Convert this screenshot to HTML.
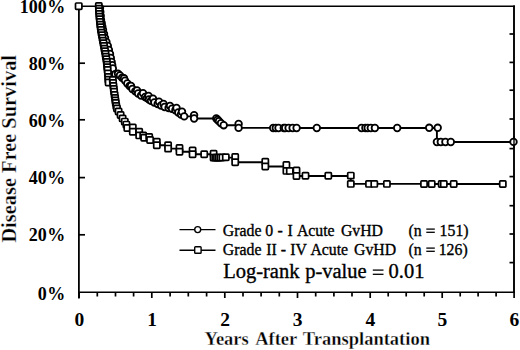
<!DOCTYPE html>
<html><head><meta charset="utf-8"><style>
html,body{margin:0;padding:0;background:#fff;}
svg{display:block;}
.b{font-family:"Liberation Serif",serif;font-weight:bold;fill:#000;}
.t{stroke:#fff;stroke-width:0.3px;}
.r{font-family:"Liberation Serif",serif;fill:#000;stroke:#000;stroke-width:0.35px;}
</style></head><body>
<svg width="520" height="350" viewBox="0 0 520 350">
<rect width="520" height="350" fill="#fff"/>
<g stroke="#000" fill="none">
<line x1="78.9" y1="5.5" x2="78.9" y2="298.5" stroke-width="1.8"/>
<line x1="78" y1="6.2" x2="515" y2="6.2" stroke-width="1.5"/>
<line x1="514" y1="5.5" x2="514" y2="293" stroke-width="1.9"/>
<line x1="78" y1="292.3" x2="515" y2="292.3" stroke-width="1.5"/>
</g>
<g stroke="#000" stroke-width="1.7"><line x1="79.1" y1="292.5" x2="79.1" y2="298.0"/><line x1="97.3" y1="292.5" x2="97.3" y2="296.5"/><line x1="115.5" y1="292.5" x2="115.5" y2="296.5"/><line x1="133.6" y1="292.5" x2="133.6" y2="296.5"/><line x1="151.8" y1="292.5" x2="151.8" y2="298.0"/><line x1="170.1" y1="292.5" x2="170.1" y2="296.5"/><line x1="188.3" y1="292.5" x2="188.3" y2="296.5"/><line x1="206.6" y1="292.5" x2="206.6" y2="296.5"/><line x1="224.8" y1="292.5" x2="224.8" y2="298.0"/><line x1="243.0" y1="292.5" x2="243.0" y2="296.5"/><line x1="261.1" y1="292.5" x2="261.1" y2="296.5"/><line x1="279.3" y1="292.5" x2="279.3" y2="296.5"/><line x1="297.5" y1="292.5" x2="297.5" y2="298.0"/><line x1="315.7" y1="292.5" x2="315.7" y2="296.5"/><line x1="333.9" y1="292.5" x2="333.9" y2="296.5"/><line x1="352.0" y1="292.5" x2="352.0" y2="296.5"/><line x1="370.2" y1="292.5" x2="370.2" y2="298.0"/><line x1="388.2" y1="292.5" x2="388.2" y2="296.5"/><line x1="406.2" y1="292.5" x2="406.2" y2="296.5"/><line x1="424.2" y1="292.5" x2="424.2" y2="296.5"/><line x1="442.2" y1="292.5" x2="442.2" y2="298.0"/><line x1="460.2" y1="292.5" x2="460.2" y2="296.5"/><line x1="478.1" y1="292.5" x2="478.1" y2="296.5"/><line x1="496.1" y1="292.5" x2="496.1" y2="296.5"/><line x1="514.1" y1="292.5" x2="514.1" y2="298.0"/><line x1="79" y1="234.8" x2="85" y2="234.8"/><line x1="79" y1="177.6" x2="85" y2="177.6"/><line x1="79" y1="119.8" x2="85" y2="119.8"/><line x1="79" y1="63.2" x2="85" y2="63.2"/><line x1="514" y1="34" x2="509.5" y2="34"/><line x1="514" y1="62.4" x2="509.5" y2="62.4"/><line x1="514" y1="90.2" x2="509.5" y2="90.2"/><line x1="514" y1="119" x2="509.5" y2="119"/><line x1="514" y1="148.6" x2="509.5" y2="148.6"/><line x1="514" y1="176.6" x2="509.5" y2="176.6"/><line x1="514" y1="205.7" x2="509.5" y2="205.7"/><line x1="514" y1="234" x2="509.5" y2="234"/><line x1="514" y1="262.6" x2="509.5" y2="262.6"/></g>
<g stroke="#000" stroke-width="1.9" fill="none">
<path d="M98.0,6.2 H98.8 H99.0 V8.7 H99.1 V11.3 H99.3 V14.0 H99.5 V16.7 H99.8 V19.3 H100.0 V22.0 H100.3 V24.7 H100.7 V27.3 H101.0 V30.0 H101.5 V32.7 H102.0 V35.3 H102.5 V38.0 H103.0 V40.7 H103.5 V43.3 H104.0 V46.0 H104.5 V48.7 H105.0 V51.3 H105.5 V54.0 H105.9 V56.7 H106.4 V59.3 H106.8 V62.0 H107.1 V64.7 H107.3 V67.3 H107.6 V70.0 H107.9 V73.5 H108.2 V77.0 H108.4 V79.8 H108.6 V82.5 H112.8 H113.1 V83.0 H113.4 V86.0 H113.8 V88.8 H114.1 V91.7 H114.6 V94.8 H115.1 V98.0 H115.4 V100.5 H115.8 V103.0 H116.3 V106.0 H117.0 V108.5 H118.6 V111.5 H120.6 V115.0 H122.6 V118.4 H124.8 V121.6 H126.4 V124.6 H127.3 V128.0 H132.8 V131.8 H139.2 V135.4 H143.2 V135.5 H144.2 V137.8 H149.2 H150.1 V140.0 H156.8 V141.8 V145.2 H168.1 V148.6 H179.5 V151.8 H192.6 V154.3 H204.2 H213.6 V157.6 H215.3 H217.0 H218.7 H220.4 H222.4 H225.8 H235.2 V162.3 H265.3 V166.5 H286.4 V170.9 H289.8 H296.5 V176.0 H305.5 H328.3 H350.8 V183.9 H369.0 H374.3 H386.9 H424.0 V184.0 H431.7 H441.7 H443.8 H453.7 H502.8"/>
<path d="M98.0,6.2 H100.0 V8.0 H100.3 V12.0 H100.7 V16.0 H101.0 V20.0 H101.7 V23.3 H102.3 V26.7 H103.0 V30.0 H104.0 V34.0 H105.0 V38.0 H106.4 V42.0 H107.8 V46.0 H108.9 V50.0 H110.0 V54.0 H110.8 V58.0 H111.6 V62.0 H112.2 V65.2 H112.8 V68.5 H115.3 V74.3 H118.0 H119.9 V75.5 H122.1 V77.8 H124.0 V78.3 H125.0 V80.6 H127.3 V83.5 H129.6 V86.0 H131.0 H132.4 V89.0 H135.3 V91.3 H137.0 H138.1 V93.5 H141.1 V95.5 H143.0 H145.1 V97.0 H147.0 V98.0 H148.5 H149.0 V99.5 H151.0 V100.8 H153.0 H154.3 V102.5 H157.7 V104.0 H159.0 H161.1 V105.5 H163.5 H164.6 V107.0 H168.6 V108.0 H170.0 H172.0 V108.7 H175.4 V110.3 H176.5 H178.3 V112.5 H181.0 V114.5 H182.0 H184.2 V116.4 H194.1 V118.5 H216.3 H217.6 V119.8 H219.0 V121.2 H221.0 V123.2 H223.7 V125.2 H238.6 V127.9 H273.2 V128.0 H275.8 H278.5 H283.8 H285.2 H288.6 H292.6 H296.6 H316.8 H361.5 H365.4 H367.7 H370.8 H374.9 H397.2 H429.2 H436.9 V142.0 H437.7 H440.8 H445.4 H450.8 H513.5"/>
</g>
<g stroke="#000" stroke-width="1.8" fill="#fff"><circle cx="100.0" cy="8.0" r="3.3"/><circle cx="100.3" cy="12.0" r="3.3"/><circle cx="100.7" cy="16.0" r="3.3"/><circle cx="101.0" cy="20.0" r="3.3"/><circle cx="101.7" cy="23.3" r="3.3"/><circle cx="102.3" cy="26.7" r="3.3"/><circle cx="103.0" cy="30.0" r="3.3"/><circle cx="104.0" cy="34.0" r="3.3"/><circle cx="105.0" cy="38.0" r="3.3"/><circle cx="106.4" cy="42.0" r="3.3"/><circle cx="107.8" cy="46.0" r="3.3"/><circle cx="108.9" cy="50.0" r="3.3"/><circle cx="110.0" cy="54.0" r="3.3"/><circle cx="110.8" cy="58.0" r="3.3"/><circle cx="111.6" cy="62.0" r="3.3"/><circle cx="112.2" cy="65.2" r="3.3"/><circle cx="112.8" cy="68.5" r="3.3"/><circle cx="115.3" cy="74.3" r="3.3"/><circle cx="118.0" cy="73.8" r="3.3"/><circle cx="119.9" cy="75.5" r="3.3"/><circle cx="122.1" cy="77.8" r="3.3"/><circle cx="124.0" cy="78.3" r="3.3"/><circle cx="125.0" cy="80.6" r="3.3"/><circle cx="127.3" cy="83.5" r="3.3"/><circle cx="129.6" cy="86.0" r="3.3"/><circle cx="131.0" cy="86.0" r="3.3"/><circle cx="132.4" cy="89.0" r="3.3"/><circle cx="135.3" cy="91.3" r="3.3"/><circle cx="137.0" cy="90.5" r="3.3"/><circle cx="138.1" cy="93.5" r="3.3"/><circle cx="141.1" cy="95.5" r="3.3"/><circle cx="143.0" cy="93.2" r="3.3"/><circle cx="145.1" cy="97.0" r="3.3"/><circle cx="147.0" cy="98.0" r="3.3"/><circle cx="148.5" cy="96.0" r="3.3"/><circle cx="149.0" cy="99.5" r="3.3"/><circle cx="151.0" cy="100.8" r="3.3"/><circle cx="153.0" cy="98.7" r="3.3"/><circle cx="154.3" cy="102.5" r="3.3"/><circle cx="157.7" cy="104.0" r="3.3"/><circle cx="159.0" cy="101.7" r="3.3"/><circle cx="161.1" cy="105.5" r="3.3"/><circle cx="163.5" cy="104.0" r="3.3"/><circle cx="164.6" cy="107.0" r="3.3"/><circle cx="168.6" cy="108.0" r="3.3"/><circle cx="170.0" cy="106.0" r="3.3"/><circle cx="172.0" cy="108.7" r="3.3"/><circle cx="175.4" cy="110.3" r="3.3"/><circle cx="176.5" cy="108.0" r="3.3"/><circle cx="178.3" cy="112.5" r="3.3"/><circle cx="181.0" cy="114.5" r="3.3"/><circle cx="182.0" cy="111.7" r="3.3"/><circle cx="184.2" cy="116.4" r="3.3"/><circle cx="194.1" cy="115.1" r="3.3"/><circle cx="194.1" cy="118.5" r="3.3"/><circle cx="216.3" cy="118.5" r="3.3"/><circle cx="217.6" cy="119.8" r="3.3"/><circle cx="219.0" cy="121.2" r="3.3"/><circle cx="221.0" cy="123.2" r="3.3"/><circle cx="223.7" cy="125.2" r="3.3"/><circle cx="238.6" cy="124.0" r="3.3"/><circle cx="238.6" cy="127.9" r="3.3"/><circle cx="273.2" cy="128.0" r="3.3"/><circle cx="275.8" cy="128.0" r="3.3"/><circle cx="278.5" cy="128.0" r="3.3"/><circle cx="283.8" cy="128.0" r="3.3"/><circle cx="285.2" cy="128.0" r="3.3"/><circle cx="288.6" cy="128.0" r="3.3"/><circle cx="292.6" cy="128.0" r="3.3"/><circle cx="296.6" cy="128.0" r="3.3"/><circle cx="316.8" cy="128.0" r="3.3"/><circle cx="361.5" cy="128.0" r="3.3"/><circle cx="365.4" cy="128.0" r="3.3"/><circle cx="367.7" cy="128.0" r="3.3"/><circle cx="370.8" cy="128.0" r="3.3"/><circle cx="374.9" cy="128.0" r="3.3"/><circle cx="397.2" cy="128.0" r="3.3"/><circle cx="429.2" cy="127.8" r="3.3"/><circle cx="436.9" cy="142.0" r="3.3"/><circle cx="437.7" cy="127.8" r="3.3"/><circle cx="440.8" cy="142.0" r="3.3"/><circle cx="445.4" cy="142.0" r="3.3"/><circle cx="450.8" cy="142.0" r="3.3"/><circle cx="513.5" cy="141.9" r="3.3"/></g>
<g stroke="#000" stroke-width="1.7" fill="#fff"><rect x="95.7" y="2.9" width="6.2" height="6.2" rx="0.8"/><rect x="95.9" y="5.6" width="6.2" height="6.2" rx="0.8"/><rect x="96.0" y="8.2" width="6.2" height="6.2" rx="0.8"/><rect x="96.2" y="10.9" width="6.2" height="6.2" rx="0.8"/><rect x="96.4" y="13.6" width="6.2" height="6.2" rx="0.8"/><rect x="96.7" y="16.2" width="6.2" height="6.2" rx="0.8"/><rect x="96.9" y="18.9" width="6.2" height="6.2" rx="0.8"/><rect x="97.2" y="21.6" width="6.2" height="6.2" rx="0.8"/><rect x="97.6" y="24.2" width="6.2" height="6.2" rx="0.8"/><rect x="97.9" y="26.9" width="6.2" height="6.2" rx="0.8"/><rect x="98.4" y="29.6" width="6.2" height="6.2" rx="0.8"/><rect x="98.9" y="32.2" width="6.2" height="6.2" rx="0.8"/><rect x="99.4" y="34.9" width="6.2" height="6.2" rx="0.8"/><rect x="99.9" y="37.6" width="6.2" height="6.2" rx="0.8"/><rect x="100.4" y="40.2" width="6.2" height="6.2" rx="0.8"/><rect x="100.9" y="42.9" width="6.2" height="6.2" rx="0.8"/><rect x="101.4" y="45.6" width="6.2" height="6.2" rx="0.8"/><rect x="101.9" y="48.2" width="6.2" height="6.2" rx="0.8"/><rect x="102.4" y="50.9" width="6.2" height="6.2" rx="0.8"/><rect x="102.8" y="53.6" width="6.2" height="6.2" rx="0.8"/><rect x="103.3" y="56.2" width="6.2" height="6.2" rx="0.8"/><rect x="103.7" y="58.9" width="6.2" height="6.2" rx="0.8"/><rect x="104.0" y="61.6" width="6.2" height="6.2" rx="0.8"/><rect x="104.2" y="64.2" width="6.2" height="6.2" rx="0.8"/><rect x="104.5" y="66.9" width="6.2" height="6.2" rx="0.8"/><rect x="104.8" y="70.4" width="6.2" height="6.2" rx="0.8"/><rect x="105.1" y="73.9" width="6.2" height="6.2" rx="0.8"/><rect x="105.3" y="76.7" width="6.2" height="6.2" rx="0.8"/><rect x="105.5" y="79.4" width="6.2" height="6.2" rx="0.8"/><rect x="109.7" y="76.9" width="6.2" height="6.2" rx="0.8"/><rect x="110.0" y="79.9" width="6.2" height="6.2" rx="0.8"/><rect x="110.3" y="82.9" width="6.2" height="6.2" rx="0.8"/><rect x="110.7" y="85.8" width="6.2" height="6.2" rx="0.8"/><rect x="111.0" y="88.6" width="6.2" height="6.2" rx="0.8"/><rect x="111.5" y="91.8" width="6.2" height="6.2" rx="0.8"/><rect x="112.0" y="94.9" width="6.2" height="6.2" rx="0.8"/><rect x="112.3" y="97.4" width="6.2" height="6.2" rx="0.8"/><rect x="112.7" y="99.9" width="6.2" height="6.2" rx="0.8"/><rect x="113.2" y="102.9" width="6.2" height="6.2" rx="0.8"/><rect x="113.9" y="105.4" width="6.2" height="6.2" rx="0.8"/><rect x="115.5" y="108.4" width="6.2" height="6.2" rx="0.8"/><rect x="117.5" y="111.9" width="6.2" height="6.2" rx="0.8"/><rect x="119.5" y="115.3" width="6.2" height="6.2" rx="0.8"/><rect x="121.7" y="118.5" width="6.2" height="6.2" rx="0.8"/><rect x="123.3" y="121.5" width="6.2" height="6.2" rx="0.8"/><rect x="124.2" y="124.9" width="6.2" height="6.2" rx="0.8"/><rect x="129.7" y="124.4" width="6.2" height="6.2" rx="0.8"/><rect x="129.7" y="128.7" width="6.2" height="6.2" rx="0.8"/><rect x="136.1" y="128.7" width="6.2" height="6.2" rx="0.8"/><rect x="136.1" y="132.3" width="6.2" height="6.2" rx="0.8"/><rect x="140.1" y="132.4" width="6.2" height="6.2" rx="0.8"/><rect x="141.1" y="134.7" width="6.2" height="6.2" rx="0.8"/><rect x="146.1" y="133.9" width="6.2" height="6.2" rx="0.8"/><rect x="147.0" y="136.9" width="6.2" height="6.2" rx="0.8"/><rect x="153.7" y="138.7" width="6.2" height="6.2" rx="0.8"/><rect x="153.7" y="142.1" width="6.2" height="6.2" rx="0.8"/><rect x="165.0" y="142.1" width="6.2" height="6.2" rx="0.8"/><rect x="165.0" y="145.5" width="6.2" height="6.2" rx="0.8"/><rect x="176.4" y="144.9" width="6.2" height="6.2" rx="0.8"/><rect x="176.4" y="148.7" width="6.2" height="6.2" rx="0.8"/><rect x="189.5" y="147.4" width="6.2" height="6.2" rx="0.8"/><rect x="189.5" y="151.2" width="6.2" height="6.2" rx="0.8"/><rect x="201.1" y="151.2" width="6.2" height="6.2" rx="0.8"/><rect x="210.5" y="150.6" width="6.2" height="6.2" rx="0.8"/><rect x="210.5" y="154.5" width="6.2" height="6.2" rx="0.8"/><rect x="212.2" y="154.5" width="6.2" height="6.2" rx="0.8"/><rect x="213.9" y="154.5" width="6.2" height="6.2" rx="0.8"/><rect x="215.6" y="154.5" width="6.2" height="6.2" rx="0.8"/><rect x="217.3" y="154.5" width="6.2" height="6.2" rx="0.8"/><rect x="219.3" y="154.3" width="6.2" height="6.2" rx="0.8"/><rect x="222.7" y="154.1" width="6.2" height="6.2" rx="0.8"/><rect x="232.1" y="153.9" width="6.2" height="6.2" rx="0.8"/><rect x="232.1" y="159.2" width="6.2" height="6.2" rx="0.8"/><rect x="262.2" y="158.7" width="6.2" height="6.2" rx="0.8"/><rect x="262.2" y="163.4" width="6.2" height="6.2" rx="0.8"/><rect x="283.3" y="161.9" width="6.2" height="6.2" rx="0.8"/><rect x="283.3" y="167.8" width="6.2" height="6.2" rx="0.8"/><rect x="286.7" y="167.8" width="6.2" height="6.2" rx="0.8"/><rect x="293.4" y="167.4" width="6.2" height="6.2" rx="0.8"/><rect x="293.4" y="172.9" width="6.2" height="6.2" rx="0.8"/><rect x="302.4" y="172.7" width="6.2" height="6.2" rx="0.8"/><rect x="325.2" y="172.7" width="6.2" height="6.2" rx="0.8"/><rect x="347.7" y="172.5" width="6.2" height="6.2" rx="0.8"/><rect x="347.7" y="180.8" width="6.2" height="6.2" rx="0.8"/><rect x="365.9" y="180.8" width="6.2" height="6.2" rx="0.8"/><rect x="371.2" y="180.8" width="6.2" height="6.2" rx="0.8"/><rect x="383.8" y="180.8" width="6.2" height="6.2" rx="0.8"/><rect x="420.9" y="180.9" width="6.2" height="6.2" rx="0.8"/><rect x="428.6" y="180.9" width="6.2" height="6.2" rx="0.8"/><rect x="438.6" y="180.9" width="6.2" height="6.2" rx="0.8"/><rect x="440.7" y="180.9" width="6.2" height="6.2" rx="0.8"/><rect x="450.6" y="180.9" width="6.2" height="6.2" rx="0.8"/><rect x="499.7" y="180.9" width="6.2" height="6.2" rx="0.8"/></g>
<line x1="514" y1="136" x2="514" y2="148" stroke="#000" stroke-width="1.4"/>
<rect x="75.5" y="3" width="6.4" height="6.4" rx="0.8" stroke="#000" stroke-width="1.7" fill="#fff"/>
<g class="b" font-size="18"><text x="46.8" y="13.0" text-anchor="end">100</text><text x="47.3" y="13.0">%</text><text x="46.8" y="69.8" text-anchor="end">80</text><text x="47.3" y="69.8">%</text><text x="46.8" y="126.6" text-anchor="end">60</text><text x="47.3" y="126.6">%</text><text x="46.8" y="184.0" text-anchor="end">40</text><text x="47.3" y="184.0">%</text><text x="46.8" y="241.4" text-anchor="end">20</text><text x="47.3" y="241.4">%</text><text x="46.8" y="300.0" text-anchor="end">0</text><text x="47.3" y="300.0">%</text></g>
<g class="b" font-size="19.5"><text x="79.3" y="325.6" text-anchor="middle">0</text><text x="152.0" y="325.6" text-anchor="middle">1</text><text x="225.0" y="325.6" text-anchor="middle">2</text><text x="297.7" y="325.6" text-anchor="middle">3</text><text x="370.4" y="325.6" text-anchor="middle">4</text><text x="442.4" y="325.6" text-anchor="middle">5</text><text x="514.3" y="325.6" text-anchor="middle">6</text></g>
<g class="b t" font-size="18.5"><text x="204.6" y="345.3">Years</text><text x="255.2" y="345.3">After</text><text x="302.8" y="345.3">Transplantation</text></g>
<text class="b t" font-size="20.5" transform="translate(15.6,242.6) rotate(-90) scale(0.995,1)">Disease Free Survival</text>
<g stroke="#000" stroke-width="1.4">
<line x1="179.5" y1="229.6" x2="215.5" y2="229.6"/>
<line x1="179.5" y1="250.2" x2="215.5" y2="250.2"/>
</g>
<circle cx="197.7" cy="229.6" r="3.0" stroke="#000" stroke-width="1.4" fill="#fff"/>
<rect x="194.7" y="246.8" width="6.4" height="6.4" rx="0.8" stroke="#000" stroke-width="1.4" fill="#fff"/>
<text class="r" font-size="15.8" x="222.8" y="235.8">Grade</text><text class="r" font-size="15.8" x="265.2" y="235.8">0</text><text class="r" font-size="15.8" x="277.5" y="235.8">-</text><text class="r" font-size="15.8" x="287.5" y="235.8">I</text><text class="r" font-size="15.8" x="296.9" y="235.8">Acute</text><text class="r" font-size="15.8" x="340.9" y="235.8">GvHD</text><text class="r" font-size="15.8" x="408.4" y="235.8">(n</text><text class="r" font-size="15.8" x="439.6" y="235.8">151)</text><text class="r" font-size="15.8" x="222.8" y="254.8">Grade</text><text class="r" font-size="15.8" x="266.3" y="254.8">II</text><text class="r" font-size="15.8" x="280.8" y="254.8">-</text><text class="r" font-size="15.8" x="290.3" y="254.8">IV</text><text class="r" font-size="15.8" x="310.4" y="254.8">Acute</text><text class="r" font-size="15.8" x="354.0" y="254.8">GvHD</text><text class="r" font-size="15.8" x="408.4" y="254.8">(n</text><text class="r" font-size="15.8" x="438.7" y="254.8">126)</text><text class="r" font-size="20.5" x="223.2" y="277.9">Log-rank</text><text class="r" font-size="20.5" x="305.2" y="277.9">p-value</text><text class="r" font-size="20.5" x="388.6" y="277.9">0.01</text>
<g stroke="#000" stroke-width="1.3">
<line x1="426.3" y1="229.1" x2="434.8" y2="229.1"/><line x1="426.3" y1="232.3" x2="434.8" y2="232.3"/>
<line x1="426.3" y1="248.1" x2="434.8" y2="248.1"/><line x1="426.3" y1="251.3" x2="434.8" y2="251.3"/>
<line x1="372.8" y1="270.1" x2="383.5" y2="270.1"/><line x1="372.8" y1="274.3" x2="383.5" y2="274.3"/>
</g>
</svg>
</body></html>
